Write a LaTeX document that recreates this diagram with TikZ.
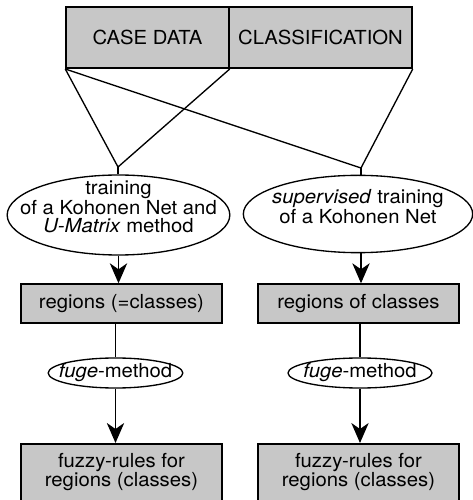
\documentclass[tikz,border=0pt]{standalone}
\usepackage{fontspec}
\setmainfont{TeX Gyre Heros}[FakeStretch=1.05]
\usetikzlibrary{shapes.geometric,arrows.meta}

\begin{document}
\begin{tikzpicture}[x=0.75pt,y=0.75pt,
  txt/.style={font=\fontsize{14.5pt}{13.2pt}\selectfont,align=center},
  databox/.style={txt,draw,line width=1.3pt,fill=black!22,inner sep=0pt},
  method/.style={txt,draw,ellipse,line width=1pt,fill=white,inner sep=0pt},
  link/.style={line width=1pt},
  arr/.style={line width=1pt,-{Stealth[length=15pt,width=13pt,inset=4.5pt]}}
]
\clip (0,0) rectangle (473,500);

% Top row - input data
\node[databox,minimum width=122pt,minimum height=46pt] (casedata) at (147.5,462.5) {CASE DATA};
\node[databox,minimum width=137pt,minimum height=46pt] (classif) at (320.5,462.5) {CLASSIFICATION};

% Crossing links
\coordinate (jleft) at (118,333);
\coordinate (jright) at (361,332);
\draw[link] (casedata.south west) -- (jleft) -- (casedata.south east);
\draw[link] (casedata.south west) -- (jright) -- (classif.south east);

% Training (text sits high in the ellipses)
\node[method,minimum width=167pt,minimum height=60pt] (trainu) at (118.5,285) {};
\node[txt,inner sep=0pt,anchor=north] (trainutext) at (118.5,319) {training\\of a Kohonen Net and\\\textit{U-Matrix} method};
\node[method,minimum width=172pt,minimum height=58pt] (trainsup) at (358,286) {};
\node[txt,inner sep=0pt,anchor=north] (trainsuptext) at (358,311) {\textit{supervised} training\\of a Kohonen Net};
\draw[link] (jleft) -- (jleft |- trainu.north);
\draw[link] (jright) -- (jright |- trainsup.north);

% Regions
\node[databox,minimum width=151pt,minimum height=29pt] (regions) at (121.5,196.5) {regions (=classes)};
\node[databox,minimum width=151pt,minimum height=29pt] (regclass) at (358.5,196.5) {regions of classes};
\draw[arr] (trainu.south) -- (trainu.south |- regions.north);
\draw[arr] (jright |- trainsup.south) -- (jright |- regclass.north);

% fuge
\node[method,inner xsep=-11pt,inner ysep=-1pt,minimum width=101pt,minimum height=22.5pt] (fugeleft) at (115.5,127) {\textit{fuge}-method};
\node[method,inner xsep=-11pt,inner ysep=-1pt,minimum width=108pt,minimum height=22.5pt] (fugeright) at (360,127) {\textit{fuge}-method};
\draw[link] (fugeleft.north |- regions.south) -- (fugeleft.north);
\draw[link] (fugeright.north |- regclass.south) -- (fugeright.north);

% Fuzzy rules
\node[databox,minimum width=151pt,inner ysep=7pt,text depth=45pt,anchor=north] (rulesleft) at (121.5,57) {fuzzy-rules for\\regions (classes)};
\node[databox,minimum width=151pt,inner ysep=7pt,text depth=45pt,anchor=north] (rulesright) at (358.5,57) {fuzzy-rules for\\regions (classes)};
\draw[arr] (fugeleft.south) -- (fugeleft.south |- rulesleft.north);
\draw[arr] (fugeright.south) -- (fugeright.south |- rulesright.north);
\end{tikzpicture}
\end{document}
